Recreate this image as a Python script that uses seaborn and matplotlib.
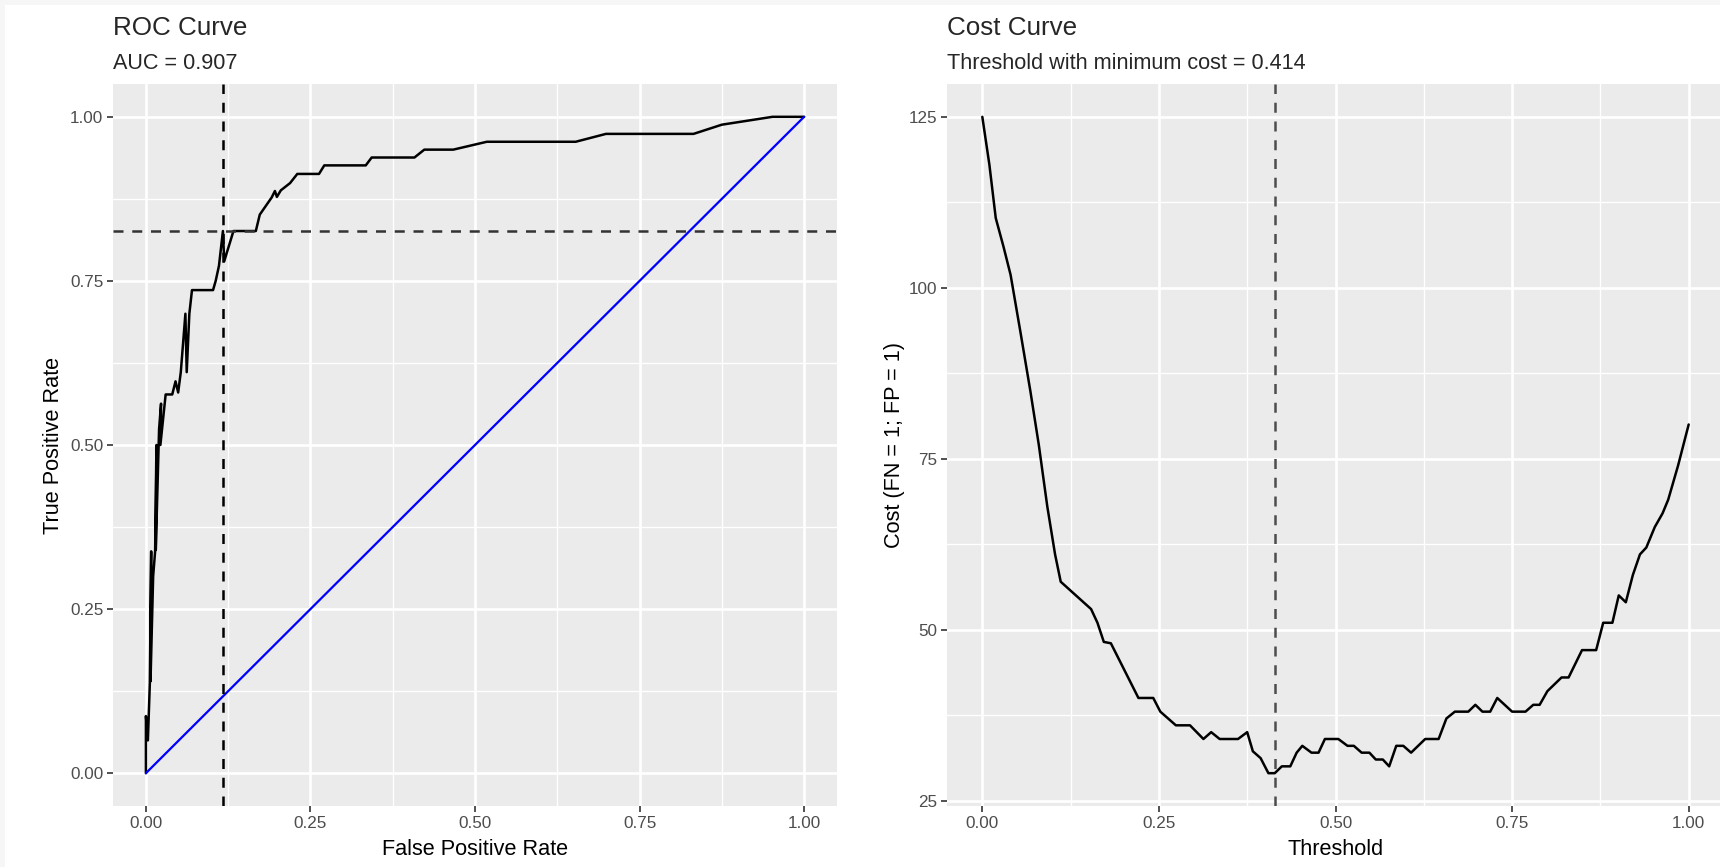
import numpy as np
import pandas as pd
import seaborn as sns
import matplotlib.pyplot as plt
from matplotlib.patches import Rectangle

# ROC curve points
fpr = [0, 0, 0.003, 0.006, 0.008, 0.007, 0.011, 0.014, 0.016, 0.015,
       0.020, 0.023, 0.022, 0.030, 0.040, 0.045, 0.049, 0.053, 0.060, 0.062,
       0.066, 0.070, 0.078, 0.102, 0.106, 0.111, 0.117, 0.119, 0.133, 0.167,
       0.173, 0.191, 0.196, 0.199, 0.205, 0.219, 0.230, 0.263, 0.271, 0.334,
       0.343, 0.408, 0.423, 0.467, 0.518, 0.653, 0.699, 0.832, 0.875, 0.952, 1.0]
tpr = [0, 0.087, 0.05, 0.138, 0.338, 0.14, 0.30, 0.338, 0.50, 0.34,
       0.524, 0.563, 0.50, 0.577, 0.577, 0.597, 0.58, 0.611, 0.70, 0.611,
       0.70, 0.736, 0.736, 0.736, 0.75, 0.773, 0.826, 0.78, 0.826, 0.826,
       0.851, 0.877, 0.887, 0.878, 0.888, 0.899, 0.913, 0.913, 0.926, 0.926,
       0.938, 0.938, 0.950, 0.950, 0.962, 0.962, 0.974, 0.974, 0.988, 1.0, 1.0]

# cost curve
threshold = [0, 0.010, 0.019, 0.030, 0.040, 0.054, 0.068, 0.080, 0.092, 0.103,
             0.111, 0.154, 0.163, 0.172, 0.182, 0.221, 0.242, 0.252, 0.274, 0.294,
             0.313, 0.324, 0.336, 0.362, 0.375, 0.383, 0.394, 0.405, 0.414, 0.424,
             0.436, 0.445, 0.453, 0.466, 0.476, 0.485, 0.504, 0.517, 0.526, 0.537,
             0.548, 0.557, 0.567, 0.576, 0.586, 0.596, 0.607, 0.627, 0.646, 0.657,
             0.669, 0.688, 0.698, 0.708, 0.719, 0.729, 0.750, 0.769, 0.780, 0.789,
             0.800, 0.820, 0.830, 0.849, 0.869, 0.879, 0.892, 0.901, 0.911, 0.921,
             0.931, 0.940, 0.952, 0.963, 0.971, 0.985, 1.0]
cost = [125, 118, 110.2, 106, 101.9, 93.5, 84.9, 77, 68, 61,
        57, 53, 51, 48.2, 48, 40, 40, 38, 36, 36,
        34, 35, 34, 34, 35, 32.2, 31.2, 29, 29, 30,
        30, 32, 33, 32, 32, 34, 34, 33, 33, 32,
        32, 31, 31, 30, 33, 33, 32, 34, 34, 37,
        38, 38, 39, 38, 38, 40, 38, 38, 39, 39,
        41, 43, 43, 47, 47, 51, 51, 55, 54, 58,
        61, 62, 65, 67, 69, 74, 80]

AUC = 0.907
BEST_FPR = 0.117
BEST_TPR = 0.826
BEST_THRESHOLD = 0.414

unit_ticks = [0, 0.25, 0.5, 0.75, 1.0]
unit_labels = ["0.00", "0.25", "0.50", "0.75", "1.00"]
cost_ticks = [25, 50, 75, 100, 125]

sns.set_theme(style="darkgrid", rc={
    "axes.facecolor": "#EBEBEB",
    "grid.color": "white",
    "axes.edgecolor": "#EBEBEB",
    "xtick.color": "#333333",
    "ytick.color": "#333333",
    "xtick.labelcolor": "#4D4D4D",
    "ytick.labelcolor": "#4D4D4D",
    "xtick.bottom": True,
    "ytick.left": True,
})
plt.rcParams["font.family"] = ["Liberation Sans", "DejaVu Sans"]

W, H = 1720, 867
fig = plt.figure(figsize=(W / 100, H / 100), dpi=100)
fig.patch.set_facecolor("#F6F6F6")
fig.patches.append(Rectangle((5 / W, 0), 1, 1 - 5 / H, transform=fig.transFigure,
                             facecolor="white", edgecolor="none", zorder=-1))

ax1 = fig.add_axes([113 / W, 1 - 806 / H, 724 / W, 722 / H])
ax2 = fig.add_axes([947 / W, 1 - 806 / H, 777 / W, 722 / H])

roc = pd.DataFrame({"fpr": fpr, "tpr": tpr})
cc = pd.DataFrame({"threshold": threshold, "cost": cost})

LW = 1.8
sns.lineplot(data=roc, x="fpr", y="tpr", sort=False, estimator=None,
             color="black", linewidth=LW, ax=ax1, zorder=3)
ax1.plot([0, 1], [0, 1], color="#0000FF", linewidth=LW * 0.9, zorder=3)
ax1.axvline(BEST_FPR, color="black", linestyle=(0, (4, 3.5)), linewidth=LW, zorder=4)
ax1.axhline(BEST_TPR, color="#333333", linestyle=(0, (4, 3.5)), linewidth=LW, zorder=4)

sns.lineplot(data=cc, x="threshold", y="cost", sort=False, estimator=None,
             color="black", linewidth=LW, ax=ax2, zorder=3)
ax2.axvline(BEST_THRESHOLD, color="#4D4D4D", linestyle=(0, (4, 3.5)), linewidth=LW, zorder=4)


def gg_style(ax, xticks, xlabels, yticks, ylabels, xlim, ylim):
    ax.set_xlim(*xlim)
    ax.set_ylim(*ylim)
    ax.set_xticks(xticks)
    ax.set_xticklabels(xlabels)
    ax.set_yticks(yticks)
    ax.set_yticklabels(ylabels)
    ax.set_xticks([(a + b) / 2 for a, b in zip(xticks[:-1], xticks[1:])], minor=True)
    ax.set_yticks([(a + b) / 2 for a, b in zip(yticks[:-1], yticks[1:])], minor=True)
    ax.grid(which="major", color="white", linewidth=1.9)
    ax.grid(which="minor", color="white", linewidth=0.95)
    ax.tick_params(which="major", length=4, width=1.2, labelsize=12.3, pad=3)
    ax.tick_params(which="minor", length=0)
    ax.set_axisbelow(True)
    for s in ax.spines.values():
        s.set_visible(False)


gg_style(ax1, unit_ticks, unit_labels, unit_ticks, unit_labels, (-0.05, 1.05), (-0.05, 1.05))
rng = max(cost) - min(cost)
gg_style(ax2, unit_ticks, unit_labels, cost_ticks, [str(v) for v in cost_ticks],
         (-0.05, 1.05), (min(cost) - 0.05 * rng, max(cost) + 0.05 * rng))

ax1.set_xlabel("False Positive Rate", fontsize=15.6, color="black", labelpad=6)
ax1.set_ylabel("True Positive Rate", fontsize=15.6, color="black", labelpad=4)
ax2.set_xlabel("Threshold", fontsize=15.6, color="black", labelpad=6)
ax2.set_ylabel("Cost (FN = 1; FP = 1)", fontsize=15.6, color="black", labelpad=3)

ax1.text(0, 1.077, "ROC Curve", transform=ax1.transAxes, fontsize=18.7, va="center", ha="left")
ax1.text(0, 1.028, f"AUC = {AUC}", transform=ax1.transAxes, fontsize=15.6, va="center", ha="left")
ax2.text(0, 1.077, "Cost Curve", transform=ax2.transAxes, fontsize=18.7, va="center", ha="left")
ax2.text(0, 1.028, f"Threshold with minimum cost = {BEST_THRESHOLD}", transform=ax2.transAxes,
         fontsize=15.6, va="center", ha="left")

fig.savefig("out.png", dpi=100)
